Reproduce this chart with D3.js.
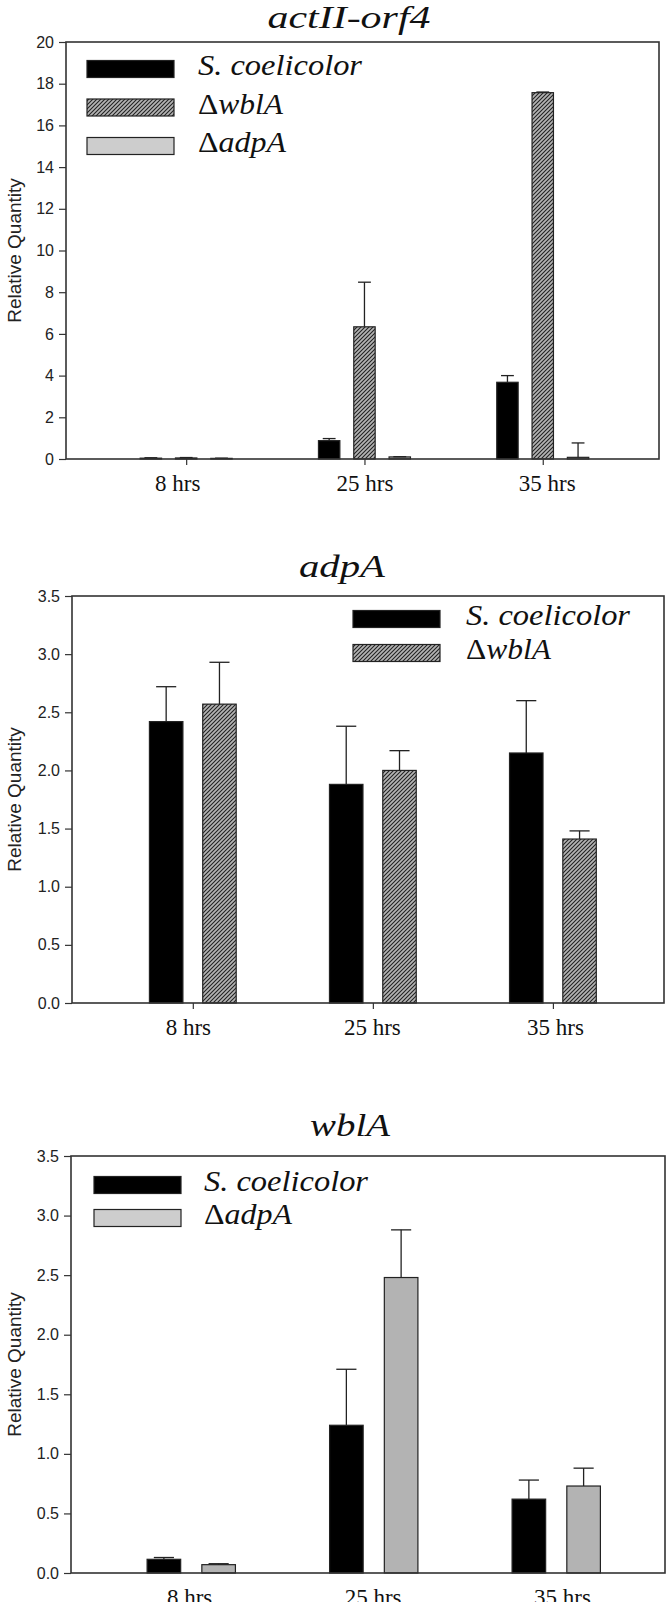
<!DOCTYPE html>
<html>
<head>
<meta charset="utf-8">
<script src="https://cdn.jsdelivr.net/npm/d3@7"></script>
<style>
  html, body { margin: 0; padding: 0; background: #fff; }
  svg { display: block; }
</style>
</head>
<body>
<svg id="chart" width="666" height="1602"></svg>
<script>
// ---------- data ----------
const categories = ["8 hrs", "25 hrs", "35 hrs"];

// Panel 1: actII-orf4
const act_title = "actII-orf4";
const act_yTicks = [0, 2, 4, 6, 8, 10, 12, 14, 16, 18, 20];
const act_sco = [0.04, 0.88, 3.68];
const act_scoErr = [0.02, 0.10, 0.32];
const act_wbl = [0.05, 6.34, 17.57];
const act_wblErr = [0.02, 2.14, 0.03];
const act_adp = [0.03, 0.10, 0.08];
const act_adpErr = [0.01, 0.01, 0.69];

// Panel 2: adpA
const adp_title = "adpA";
const adp_yTicks = [0, 0.5, 1.0, 1.5, 2.0, 2.5, 3.0, 3.5];
const adp_sco = [2.42, 1.88, 2.15];
const adp_scoErr = [0.30, 0.50, 0.45];
const adp_wbl = [2.57, 2.00, 1.41];
const adp_wblErr = [0.36, 0.17, 0.07];

// Panel 3: wblA
const wbl_title = "wblA";
const wbl_yTicks = [0, 0.5, 1.0, 1.5, 2.0, 2.5, 3.0, 3.5];
const wbl_sco = [0.115, 1.24, 0.62];
const wbl_scoErr = [0.015, 0.47, 0.16];
const wbl_adp = [0.07, 2.48, 0.73];
const wbl_adpErr = [0.008, 0.40, 0.15];

const seriesNames = { sco: "S. coelicolor", wbl: "wblA", adp: "adpA" };

// ---------- drawing ----------
const svg = d3.select("#chart");
const SERIF = "'Liberation Serif', 'Times New Roman', serif";
const SANS = "'Liberation Sans', Arial, sans-serif";

const defs = svg.append("defs");
const pat = defs.append("pattern")
  .attr("id", "hatch").attr("patternUnits", "userSpaceOnUse")
  .attr("width", 4).attr("height", 4);
pat.append("rect").attr("width", 4).attr("height", 4).attr("fill", "#b4b4b4");
pat.append("path").attr("d", "M-1,1 l2,-2 M0,4 l4,-4 M3,5 l2,-2")
  .attr("stroke", "#222").attr("stroke-width", 1.1);

const styles = {
  sco: { fill: "#000", legendFill: "#000" },
  wbl: { fill: "url(#hatch)", legendFill: "url(#hatch)" },
  adp: { fill: "#b3b3b3", legendFill: "#cdcdcd" }
};
const legendWidths = { sco: 164, wbl: 85, adp: 88 };

function legendLabel(textSel, key) {
  if (key === "sco") {
    textSel.append("tspan").attr("font-style", "italic").text(seriesNames.sco);
  } else {
    textSel.append("tspan").attr("font-style", "normal").text("Δ");
    textSel.append("tspan").attr("font-style", "italic").text(seriesNames[key]);
  }
}

function drawPanel(cfg) {
  const g = svg.append("g");
  const { left, right, top, bottom } = cfg.frame;
  const x = d3.scaleLinear().domain(cfg.xDomain).range([left, right]);
  const y = d3.scaleLinear().domain([cfg.yTicks[0], cfg.yTicks[cfg.yTicks.length - 1]]).range([bottom, top]);

  // title
  g.append("text")
    .attr("x", cfg.titleX - cfg.titleW / 2).attr("y", cfg.titleY)
    .attr("textLength", cfg.titleW).attr("lengthAdjust", "spacingAndGlyphs")
    .attr("font-family", SERIF).attr("font-style", "italic")
    .attr("font-size", 32).attr("fill", "#111")
    .text(cfg.title);

  // y axis
  const yAxis = d3.axisLeft(y).tickValues(cfg.yTicks).tickSize(7).tickPadding(5)
    .tickFormat(cfg.yFormat);
  const ya = g.append("g").attr("transform", `translate(${left},0)`).call(yAxis);
  ya.select(".domain").remove();
  ya.selectAll(".tick line").attr("stroke", "#333").attr("stroke-width", 1.2);
  ya.selectAll(".tick text").attr("font-family", SANS).attr("font-size", 16).attr("fill", "#222");

  // x axis ticks + labels
  const xIdx = categories.map((c, i) => i);
  const xAxis = d3.axisBottom(x).tickValues(xIdx).tickSize(cfg.xTickSize).tickPadding(cfg.xPad)
    .tickFormat(i => categories[i]);
  const xa = g.append("g").attr("transform", `translate(0,${bottom})`).call(xAxis);
  xa.select(".domain").remove();
  xa.selectAll(".tick line").attr("stroke", "#333").attr("stroke-width", 1.2);
  xa.selectAll(".tick text")
    .attr("x", (d, i) => cfg.labelNudge[i])
    .attr("font-family", SERIF).attr("font-size", 23).attr("fill", "#111");

  // y title
  g.append("text")
    .attr("transform", `translate(${cfg.yTitleX},${(top + bottom) / 2}) rotate(-90)`)
    .attr("text-anchor", "middle").attr("dominant-baseline", "central")
    .attr("font-family", SANS).attr("font-size", 19).attr("fill", "#222")
    .text("Relative Quantity");

  // bars
  cfg.series.forEach((s, si) => {
    const off = cfg.offsets[si];
    const w = x(cfg.barW) - x(0);
    const bg = g.append("g");
    bg.selectAll("rect").data(s.values).join("rect")
      .attr("x", (d, i) => x(i + off) - w / 2)
      .attr("y", d => y(d))
      .attr("width", w)
      .attr("height", d => y(0) - y(d))
      .attr("fill", styles[s.key].fill)
      .attr("stroke", "#222").attr("stroke-width", 1.2);
    // error bars (upper only)
    const capW = w * 0.6;
    const eg = g.append("g").attr("stroke", "#222").attr("stroke-width", 1.3);
    s.values.forEach((v, i) => {
      const cx = x(i + off);
      const yt = y(v + s.err[i]);
      eg.append("line").attr("x1", cx).attr("x2", cx).attr("y1", y(v)).attr("y2", yt);
      eg.append("line").attr("x1", cx - capW / 2).attr("x2", cx + capW / 2).attr("y1", yt).attr("y2", yt);
    });
  });

  // frame
  g.append("rect").attr("x", left).attr("y", top)
    .attr("width", right - left).attr("height", bottom - top)
    .attr("fill", "none").attr("stroke", "#333").attr("stroke-width", 1.6);

  // legend
  const lg = g.append("g");
  cfg.series.forEach((s, si) => {
    const cy = cfg.legend.y0 + si * cfg.legend.dy;
    lg.append("rect")
      .attr("x", cfg.legend.x).attr("y", cy - 8.5)
      .attr("width", 87).attr("height", 17)
      .attr("fill", styles[s.key].legendFill)
      .attr("stroke", "#222").attr("stroke-width", 1.2);
    const t = lg.append("text")
      .attr("x", cfg.legend.tx).attr("y", cy + 6)
      .attr("textLength", legendWidths[s.key]).attr("lengthAdjust", "spacingAndGlyphs")
      .attr("font-family", SERIF).attr("font-size", 29).attr("fill", "#111");
    legendLabel(t, s.key);
  });
}

drawPanel({
  title: act_title, titleX: 349, titleY: 28, titleW: 163,
  frame: { left: 66, right: 659, top: 42, bottom: 459 },
  xDomain: [-0.674, 2.652],
  yTicks: act_yTicks, yFormat: d3.format("d"),
  xTickSize: 6, xPad: 10, yTitleX: 14, labelNudge: [-9, 0, 4],
  barW: 0.12, offsets: [-0.198, 0, 0.198],
  series: [
    { key: "sco", values: act_sco, err: act_scoErr },
    { key: "wbl", values: act_wbl, err: act_wblErr },
    { key: "adp", values: act_adp, err: act_adpErr }
  ],
  legend: { x: 87, tx: 198, y0: 69, dy: 38.5 }
});

drawPanel({
  title: adp_title, titleX: 342, titleY: 577, titleW: 86,
  frame: { left: 72, right: 664, top: 596, bottom: 1003 },
  xDomain: [-0.671, 2.617],
  yTicks: adp_yTicks, yFormat: d3.format(".1f"),
  xTickSize: 6, xPad: 10, yTitleX: 14, labelNudge: [-5, -1, 2],
  barW: 0.186, offsets: [-0.148, 0.148],
  series: [
    { key: "sco", values: adp_sco, err: adp_scoErr },
    { key: "wbl", values: adp_wbl, err: adp_wblErr }
  ],
  legend: { x: 353, tx: 466, y0: 619, dy: 34 }
});

drawPanel({
  title: wbl_title, titleX: 350, titleY: 1136, titleW: 80,
  frame: { left: 71, right: 665, top: 1156, bottom: 1573 },
  xDomain: [-0.658, 2.597],
  yTicks: wbl_yTicks, yFormat: d3.format(".1f"),
  xTickSize: 0, xPad: 16, yTitleX: 14, labelNudge: [-2, -1, 6],
  barW: 0.184, offsets: [-0.149, 0.151],
  series: [
    { key: "sco", values: wbl_sco, err: wbl_scoErr },
    { key: "adp", values: wbl_adp, err: wbl_adpErr }
  ],
  legend: { x: 94, tx: 204, y0: 1185, dy: 33 }
});
</script>
</body>
</html>
